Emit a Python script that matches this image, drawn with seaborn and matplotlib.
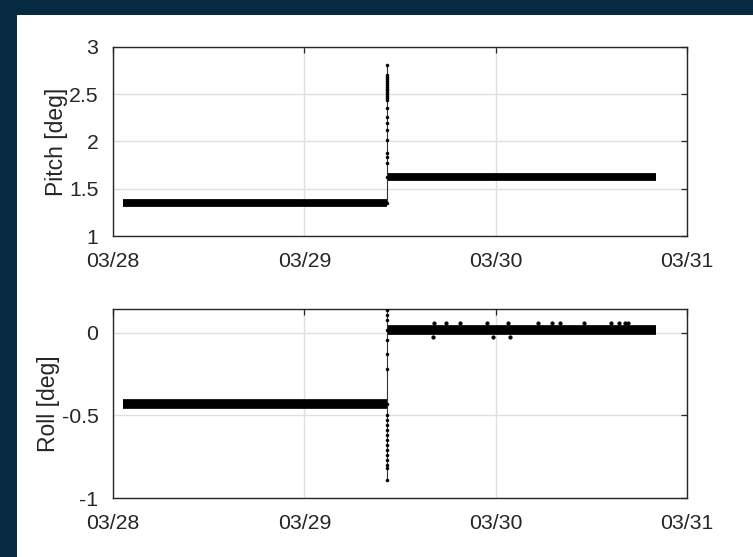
import numpy as np
import pandas as pd
import matplotlib
matplotlib.use("Agg")
import matplotlib.pyplot as plt
import matplotlib.dates as mdates
from matplotlib.patches import Rectangle
import seaborn as sns

# ---------------- data (days after 03/28 00:00) ----------------
t_start = 0.052
t_jump = 1.4325
t_end = 2.838

pitch_before = 1.35
pitch_after = 1.62
pitch_spike = [2.81, 2.70, 2.68, 2.66, 2.64, 2.62, 2.60, 2.58, 2.56, 2.54, 2.52,
               2.50, 2.48, 2.46, 2.44, 2.35, 2.26, 2.20, 2.12, 2.02, 1.88, 1.84,
               1.77]

roll_before = -0.43
roll_after = 0.018
roll_spike = [0.14, 0.11, 0.08, -0.04, -0.13, -0.22, -0.50, -0.53, -0.56, -0.59,
              -0.62, -0.65, -0.68, -0.71, -0.74, -0.77, -0.80, -0.82, -0.89]

roll_out_hi_t = [1.678, 1.741, 1.814, 1.955, 2.065, 2.222, 2.295, 2.337, 2.462,
                 2.603, 2.645, 2.676, 2.692]
roll_out_hi_v = [0.06] * len(roll_out_hi_t)
roll_out_lo_t = [1.673, 1.986, 2.075]
roll_out_lo_v = [-0.025] * len(roll_out_lo_t)

x_ticklabels = ["03/28", "03/29", "03/30", "03/31"]
pitch_ticks = [1, 1.5, 2, 2.5, 3]
roll_ticks = [-1, -0.5, 0]

base = pd.Timestamp("2019-03-28")


def to_dt(days):
    return base + pd.to_timedelta(np.asarray(days, dtype=float), unit="D")


# ---------------- figure ----------------
sns.set_theme(style="white")
plt.rcParams["font.family"] = ["Liberation Sans", "DejaVu Sans"]

W, H = 753, 557
fig = plt.figure(figsize=(W / 100, H / 100), dpi=100)
fig.patch.set_facecolor("white")
navy = "#062a42"
fig.add_artist(Rectangle((0, 0), 17 / W, 1, transform=fig.transFigure,
                         facecolor=navy, edgecolor="none", zorder=-10))
fig.add_artist(Rectangle((0, 1 - 15 / H), 1, 15 / H, transform=fig.transFigure,
                         facecolor=navy, edgecolor="none", zorder=-10))

axL, axR = 113 / W, 687 / W
ax1 = fig.add_axes([axL, 1 - 236 / H, axR - axL, (236 - 47) / H])
ax2 = fig.add_axes([axL, 1 - 498 / H, axR - axL, (498 - 309) / H])

txt = "#262626"
grid_c = "#dfdfdf"


def draw(ax, before, after, spike, band_lw):
    seg1 = pd.DataFrame({"t": to_dt([t_start, t_jump]), "v": [before, before]})
    seg2 = pd.DataFrame({"t": to_dt([t_jump, t_end]), "v": [after, after]})
    for seg in (seg1, seg2):
        sns.lineplot(data=seg, x="t", y="v", ax=ax, color="black",
                     linewidth=band_lw, solid_capstyle="butt", zorder=3)
    vals = sorted(list(spike) + [before, after], reverse=True)
    sp = pd.DataFrame({"t": to_dt([t_jump] * len(vals)), "v": vals})
    sns.lineplot(data=sp, x="t", y="v", ax=ax, color="#333333", linewidth=0.8,
                 estimator=None, sort=False, zorder=3)
    sns.scatterplot(data=sp, x="t", y="v", ax=ax, color="black", s=5,
                    marker="o", edgecolor="black", linewidth=0.3, zorder=4)


draw(ax1, pitch_before, pitch_after, pitch_spike, 5.6)
draw(ax2, roll_before, roll_after, roll_spike, 7.0)

outs = pd.DataFrame({"t": to_dt(roll_out_hi_t + roll_out_lo_t),
                     "v": roll_out_hi_v + roll_out_lo_v})
sns.scatterplot(data=outs, x="t", y="v", ax=ax2, color="black", s=7,
                marker="o", edgecolor="black", linewidth=0.3, zorder=4)

for ax, ylim, yt, ylab, lx in ((ax1, (1, 3), pitch_ticks, "Pitch [deg]", -0.079),
                               (ax2, (-1, 0.145), roll_ticks, "Roll [deg]", -0.093)):
    ax.set_xlim(to_dt([0])[0], to_dt([3])[0])
    ax.set_ylim(*ylim)
    ax.set_yticks(yt)
    ax.set_yticklabels([("%g" % v) for v in yt])
    ax.xaxis.set_major_locator(mdates.DayLocator())
    ax.xaxis.set_major_formatter(mdates.DateFormatter("%m/%d"))
    ax.set_xlabel("")
    ax.set_ylabel(ylab, fontsize=16.5, color=txt)
    ax.yaxis.set_label_coords(lx, 0.5)
    ax.grid(True, color=grid_c, linewidth=1.0, zorder=0)
    ax.set_axisbelow(True)
    ax.tick_params(axis="both", which="major", direction="in", length=4.5,
                   width=0.9, color=txt, labelcolor=txt, labelsize=15.3,
                   top=True, right=True)
    ax.tick_params(axis="x", pad=11.5)
    ax.tick_params(axis="y", pad=10.5)
    for s in ax.spines.values():
        s.set_visible(True)
        s.set_color(txt)
        s.set_linewidth(1.0)
    ax.set_facecolor("white")

fig.savefig("out.png", dpi=100)
